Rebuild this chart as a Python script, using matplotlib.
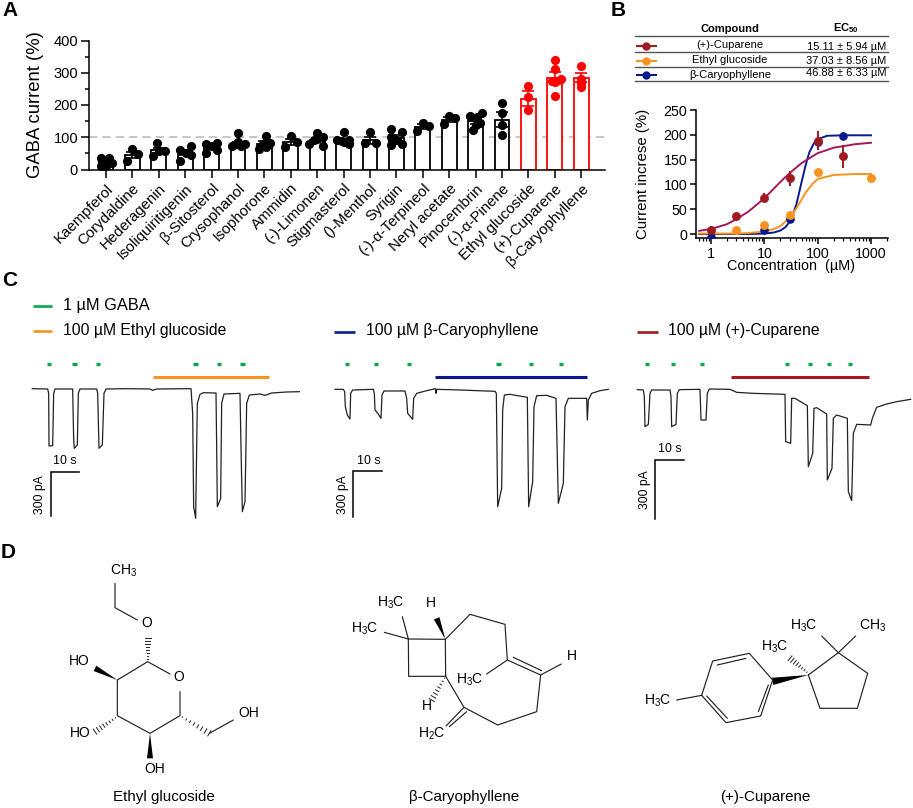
import numpy as np
import matplotlib
matplotlib.use("Agg")
import matplotlib.pyplot as plt
from matplotlib.ticker import MultipleLocator, NullFormatter, FixedLocator, LogLocator

plt.rcParams['font.family'] = ['Liberation Sans', 'DejaVu Sans']
plt.rcParams['mathtext.fontset'] = 'custom'
plt.rcParams['mathtext.rm'] = 'Liberation Sans'
plt.rcParams['mathtext.default'] = 'regular'

W, H = 913, 808

# ---------- Panel A data ----------
compounds = ["Kaempferol", "Corydaldine", "Hederagenin", "Isoliquiritigenin", "β-Sitosterol",
             "Crysophanol", "Isophorone", "Ammidin", "(-)-Limonen", "Stigmasterol", "()-Menthol",
             "Syrigin", "(-)-α-Terpineol", "Neryl acetate", "Pinocembrin", "(-)-α-Pinene",
             "Ethyl glucoside", "(+)-Cuparene", "β-Caryophyllene"]
bar_means = [22, 45, 60, 52, 70, 80, 80, 85, 92, 88, 90, 98, 133, 155, 150, 155, 220, 283, 285]
bar_sems = [3, 10, 8, 8, 6, 6, 7, 10, 5, 5, 11, 9, 8, 7, 8, 22, 23, 18, 14]
dot_values = [
    [35, 37, 25, 20, 12, 10, 25, 8], [27, 63, 47], [41, 81, 57, 57], [26, 60, 52, 72, 44],
    [50, 79, 72, 83, 62], [112, 72, 80, 72, 78, 85], [65, 103, 80, 70, 83], [70, 104, 84],
    [80, 112, 100, 73, 90, 95], [116, 91, 86, 91, 79, 88], [116, 81, 83],
    [127, 117, 101, 75, 90, 79], [119, 145, 134], [142, 165, 159],
    [166, 176, 163, 143, 122, 137], [205, 176, 137, 108], [260, 225, 183],
    [340, 313, 228, 270, 280, 275], [320, 280, 267, 256]]
dot_offsets = [
    [-16, 8, -8, 18, -16, 0, 8, -5], [-17, 0, 17], [-16, -4, 2, 19], [-16, -16, 1, 17, 17],
    [-16, -16, 1, 17, 17], [0, -17, -7, 8, 21, 0], [-15, 5, -3, 5, 18], [-16, 0, 18],
    [-26, 0, 18, 18, -10, 0], [0, -19, 0, 16, 16, -6], [0, -16, 18],
    [-16, 18, -16, -16, 1, 18], [-16, 0, 18], [-15, 0, 18],
    [-16, 19, 4, 14, -9, 2], [0, 0, 0, 0], [0, 0, 0],
    [0, 0, 0, 0, 17, -9], [0, 0, 0, 0]]

# ---------- Panel B data ----------
cup_conc = [1, 3, 10, 30, 100, 300]
cup_mean = [9, 37, 73, 112, 188, 157]
cup_err = [8, 0, 9, 16, 19, 23]
eth_conc = [3, 10, 30, 100, 1000]
eth_mean = [9, 19, 39, 125, 112]
car_conc = [1, 10, 30, 100, 300]
car_mean = [-5, 9, 30, 185, 198]
car_err = [0, 0, 0, 0, 7]
cup_fit_x = [0.6, 1, 2, 3, 5, 10, 20, 30, 50, 100, 200, 500, 1000]
cup_fit_y = [6.5, 10, 20, 30, 45, 72, 105, 123, 143, 163, 174, 181, 184]
car_fit_x = [0.6, 5, 10, 15, 20, 25, 30, 35, 40, 50, 60, 70, 85, 100, 150, 300, 1000]
car_fit_y = [0, 0, 1, 3, 7, 14, 25, 42, 60, 105, 140, 165, 183, 191, 198, 199, 199]
eth_fit_x = [0.6, 1, 3, 5, 10, 15, 20, 30, 40, 60, 80, 100, 200, 500, 1000]
eth_fit_y = [1, 1, 1, 2, 5, 10, 16, 33, 52, 84, 101, 111, 119, 121, 121]
b_rows = ["(+)-Cuparene", "Ethyl glucoside", "β-Caryophyllene"]
b_ec50 = ["15.11 ± 5.94 µM", "37.03 ± 8.56 µM", "46.88 ± 6.33 µM"]

# ---------- Panel C traces (time, current in crop units) ----------
t1_x = [97, 143, 146, 147, 158, 161, 165, 218, 221, 223, 232, 235, 240, 290, 293, 297, 307, 312, 318, 380, 450, 458,
        470, 573, 578, 581, 587, 590, 592, 600, 610, 648, 650, 652, 662, 665, 672, 720, 723, 727, 735, 740, 748,
        780, 795, 815, 860, 900]
t1_y = [326, 327, 340, 498, 497, 340, 327, 327, 480, 505, 495, 340, 327, 327, 340, 505, 495, 340, 327, 326, 327, 331,
        327, 326, 400, 680, 715, 500, 370, 343, 338, 339, 500, 680, 655, 370, 342, 340, 500, 695, 665, 370, 345,
        342, 346, 339, 336, 335]
t2_x = [75, 100, 104, 106, 112, 120, 122, 128, 190, 193, 195, 205, 213, 216, 222, 285, 290, 293, 308, 311, 320, 350,
        376, 378, 380, 450, 555, 559, 563, 575, 578, 583, 600, 652, 656, 668, 672, 680, 710, 738, 745, 760, 765,
        775, 830, 832, 835, 845, 870, 895]
t2_y = [238, 238, 245, 290, 315, 327, 250, 240, 238, 250, 300, 312, 325, 255, 243, 243, 265, 310, 328, 265, 250, 242,
        236, 250, 238, 240, 244, 250, 590, 535, 300, 255, 253, 262, 590, 515, 290, 257, 256, 265, 580, 520, 290,
        265, 265, 330, 270, 250, 242, 238]
t3_x = [52, 70, 73, 75, 85, 90, 95, 150, 153, 155, 168, 172, 178, 240, 243, 258, 262, 268, 330, 350, 400, 495, 497,
        512, 515, 525, 562, 565, 578, 582, 590, 620, 622, 636, 640, 650, 682, 685, 695, 700, 710, 752, 757, 770,
        800, 830, 872]
t3_y = [239, 240, 260, 350, 343, 250, 240, 240, 260, 350, 343, 250, 239, 238, 330, 330, 250, 237, 238, 247, 250, 253,
        395, 400, 265, 265, 287, 470, 430, 295, 293, 312, 510, 475, 325, 315, 325, 545, 572, 370, 343, 345, 325,
        292, 282, 275, 268]
t1_gaba = [141, 217, 287, 580, 650, 721]
t2_gaba = [105, 192, 290, 559, 657, 747]
t3_gaba = [75, 153, 240, 494, 563, 620, 684]

RED = '#ff0000'
C_CUP = '#a01b1f'
C_CUPFIT = '#a3195b'
C_ETH = '#f7931e'
C_CAR = '#0a1a8c'
C_GREEN = '#0aa64b'


def px_axes(l, t, r, b, **kw):
    return fig.add_axes([l / W, 1 - b / H, (r - l) / W, (b - t) / H], **kw)


def crop_axes(x, y, w, h):
    a = px_axes(x, y, x + w, y + h)
    a.set_xlim(0, w * 3)
    a.set_ylim(h * 3, 0)
    a.set_axis_off()
    a.patch.set_alpha(0)
    return a


fig = plt.figure(figsize=(W / 100, H / 100), dpi=100)
fig.patch.set_facecolor('white')

# ---------- Panel A ----------
axA = px_axes(88.5, 40.5, 605, 169.5)
xs = np.arange(len(compounds))
axA.axhline(100, color='#bdbdbd', lw=1.2, ls=(0, (5, 3)), zorder=1)
colors = ['black'] * 16 + [RED] * 3
axA.bar(xs, bar_means, width=0.56, facecolor='white', edgecolor=colors, linewidth=1.3, zorder=2)
for i in xs:
    axA.errorbar([i], [bar_means[i]], yerr=[bar_sems[i]], fmt='none', ecolor=colors[i],
                 elinewidth=1.2, capsize=4, capthick=1.2, zorder=3)
    axA.plot(i + np.array(dot_offsets[i]) / 79.2, dot_values[i], 'o', color=colors[i], ms=6.6, mew=0, zorder=4)
axA.set_xlim(-0.663, 18.9)
axA.set_ylim(0, 400)
axA.yaxis.set_major_locator(MultipleLocator(100))
axA.yaxis.set_minor_locator(MultipleLocator(50))
axA.set_xticks(xs)
axA.set_xticklabels(compounds, rotation=45, ha='right', rotation_mode='anchor', fontsize=10.8)
axA.tick_params(axis='y', which='major', length=5.5, width=1.1, labelsize=10.5, pad=2)
axA.tick_params(axis='y', which='minor', length=3, width=1.1)
axA.tick_params(axis='x', length=5.5, width=1.1, pad=3)
for s in ['top', 'right']:
    axA.spines[s].set_visible(False)
for s in ['left', 'bottom']:
    axA.spines[s].set_linewidth(1.1)
axA.set_zorder(1)
fig.text(36 / W, 1 - 105 / H, "GABA current (%)", rotation=90, ha='center', va='center', fontsize=13.3)

# ---------- Panel B table ----------
tb = crop_axes(610, 0, 303, 90)
for y in [108, 157, 202, 243]:
    tb.plot([75, 835], [y, y], color='#555555', lw=1.0)
for y, col in zip([138, 182, 226], [C_CUP, C_ETH, C_CAR]):
    tb.plot([80, 138], [y, y], color=col, lw=1.5)
    tb.plot([109], [y], 'o', color=col, ms=6, mew=0)
tb.text(360, 88, "Compound", ha='center', va='center', fontsize=8, fontweight='bold')
tb.text(708, 85, "EC$_{50}$", ha='center', va='center', fontsize=8, fontweight='bold')
for y, name in zip([136, 180, 226], b_rows):
    tb.text(360, y, name, ha='center', va='center', fontsize=8)
for y, val in zip([140, 182, 220], b_ec50):
    tb.text(830, y, val, ha='right', va='center', fontsize=8)

# ---------- Panel B curves ----------
axB = px_axes(695.7, 110, 888.3, 238.3)
axB.set_xscale('log')
axB.set_xlim(0.517, 2112)
axB.set_ylim(-8.6, 250)
axB.plot(car_fit_x, car_fit_y, color=C_CAR, lw=1.4, zorder=2)
axB.plot(eth_fit_x, eth_fit_y, color=C_ETH, lw=1.4, zorder=2)
axB.plot(cup_fit_x, cup_fit_y, color=C_CUPFIT, lw=1.4, zorder=3)
axB.errorbar(car_conc, car_mean, yerr=car_err, fmt='o', color=C_CAR, ms=6.2, mew=0, elinewidth=1.4,
             capsize=3.5, capthick=1.4, zorder=4)
axB.plot(eth_conc, eth_mean, 'o', color=C_ETH, ms=6.4, mew=0, zorder=5)
axB.errorbar(cup_conc, cup_mean, yerr=cup_err, fmt='o', color=C_CUP, ms=6.4, mew=0, elinewidth=1.4,
             capsize=3.5, capthick=1.4, zorder=6)
axB.xaxis.set_major_locator(FixedLocator([1, 10, 100, 1000]))
axB.set_xticklabels(["1", "10", "100", "1000"])
axB.xaxis.set_minor_locator(LogLocator(base=10, subs=np.arange(2, 10), numticks=12))
axB.xaxis.set_minor_formatter(NullFormatter())
axB.yaxis.set_major_locator(MultipleLocator(50))
axB.tick_params(axis='both', which='major', length=4, width=1.1, labelsize=10.3, pad=2)
axB.tick_params(axis='x', which='minor', length=2.5, width=0.9)
axB.spines['left'].set_bounds(-8.6, 250)
for s in ['top', 'right']:
    axB.spines[s].set_visible(False)
for s in ['left', 'bottom']:
    axB.spines[s].set_linewidth(1.1)
fig.text(643 / W, 1 - 174 / H, "Current increse (%)", rotation=90, ha='center', va='center', fontsize=10.8)
fig.text(791 / W, 1 - 266 / H, "Concentration  (µM)", ha='center', va='center', fontsize=10.4)


# ---------- Panel C ----------
def panel_c(crop, tx, ty, gaba, gaba_y, bar, bar_y, bar_col, scale, s_txt, p_txt):
    a = crop_axes(*crop)
    a.plot(tx, ty, color='#222222', lw=0.9)
    for g in gaba:
        a.plot([g, g + 13], [gaba_y, gaba_y], color=C_GREEN, lw=2.4, solid_capstyle='butt')
    a.plot(bar, [bar_y, bar_y], color=bar_col, lw=2.2, solid_capstyle='butt')
    sx0, sx1, sy0, sy1 = scale
    a.plot([sx1, sx0, sx0], [sy0, sy0, sy1], color='black', lw=1.1, solid_joinstyle='miter')
    a.text(*s_txt, "10 s", ha='center', va='center', fontsize=8.9)
    a.text(*p_txt, "300 pA", ha='center', va='center', rotation=90, fontsize=8.7)
    return a


c1 = panel_c((0, 280, 300, 250), t1_x, t1_y, t1_gaba, 251, [459, 807], 290, C_ETH,
             (152, 238, 576, 708), (193, 543), (120, 645))
c1.plot([98, 155], [78, 78], color=C_GREEN, lw=1.9, solid_capstyle='butt')
c1.plot([98, 155], [152, 152], color=C_ETH, lw=1.9, solid_capstyle='butt')
c1.text(190, 75, "1 µM GABA", ha='left', va='center', fontsize=11.8)
c1.text(190, 150, "100 µM Ethyl glucoside", ha='left', va='center', fontsize=11.3)

c2 = panel_c((310, 310, 300, 220), t2_x, t2_y, t2_gaba, 161, [375, 830], 200, C_CAR,
             (130, 217, 482, 622), (175, 452), (100, 555))
c2.plot([72, 135], [65, 65], color=C_CAR, lw=1.9, solid_capstyle='butt')
c2.text(167, 60, "100 µM β-Caryophyllene", ha='left', va='center', fontsize=11.3)

c3 = panel_c((620, 310, 293, 220), t3_x, t3_y, t3_gaba, 161, [333, 748], 200, C_CUP,
             (105, 192, 449, 627), (148, 418), (75, 540))
c3.plot([50, 113], [65, 65], color=C_CUP, lw=1.9, solid_capstyle='butt')
c3.text(145, 60, "100 µM (+)-Cuparene", ha='left', va='center', fontsize=11.3)


# ---------- Panel D ----------
def bonds(a, segs):
    for s in segs:
        xx, yy = zip(*s)
        a.plot(xx, yy, color='#222222', lw=0.85, solid_capstyle='round', solid_joinstyle='round')


def wedge(a, p0, p1, w=9):
    p0, p1 = np.array(p0, float), np.array(p1, float)
    d = p1 - p0
    n = np.array([-d[1], d[0]]) / np.hypot(*d)
    a.fill(*zip(p0, p1 + n * w, p1 - n * w), color='black', lw=0)


def hashed(a, p0, p1, w=9, count=8):
    p0, p1 = np.array(p0, float), np.array(p1, float)
    d = p1 - p0
    n = np.array([-d[1], d[0]]) / np.hypot(*d)
    for f in np.linspace(0.08, 1, count):
        c = p0 + d * f
        a.plot(*zip(c + n * w * f, c - n * w * f), color='#222222', lw=0.7)


d1 = crop_axes(0, 540, 300, 268)
bonds(d1, [[(345, 130), (345, 203), (412, 240)],
           [(510, 402), (443, 365), (352, 420), (352, 527), (450, 580), (540, 527), (540, 455)],
           [(628, 580), (700, 540)]])
hashed(d1, (443, 362), (443, 295))
wedge(d1, (352, 420), (285, 385))
hashed(d1, (352, 530), (285, 575))
wedge(d1, (450, 580), (450, 655))
hashed(d1, (540, 527), (628, 580))
for x, y, s in [(372, 92, "CH$_3$"), (440, 250, "O"), (537, 410, "O"), (238, 362, "HO"), (242, 580, "HO"),
                (465, 688, "OH"), (747, 518, "OH")]:
    d1.text(x, y, s, ha='center', va='center', fontsize=10)
d1.text(492, 772, "Ethyl glucoside", ha='center', va='center', fontsize=10.9)

d2 = crop_axes(320, 570, 290, 238)
bonds(d2, [[(265, 207), (376, 208), (377, 319), (266, 319), (265, 207)],
           [(193, 187), (265, 207), (247, 140)],
           [(376, 208), (450, 133), (555, 163), (562, 270), (662, 315), (724, 282)],
           [(580, 262), (665, 302)],
           [(562, 270), (500, 312)],
           [(662, 315), (650, 425), (533, 465), (432, 412), (377, 319)],
           [(432, 412), (378, 468)], [(440, 425), (388, 470)]])
wedge(d2, (376, 208), (350, 145))
hashed(d2, (377, 319), (335, 390))
for x, y, s in [(212, 97, "H$_3$C"), (133, 177, "H$_3$C"), (334, 100, "H"), (757, 257, "H"), (449, 330, "H$_3$C"),
                (320, 407, "H"), (335, 490, "H$_2$C")]:
    d2.text(x, y, s, ha='center', va='center', fontsize=10)
d2.text(432, 682, "β-Caryophyllene", ha='center', va='center', fontsize=10.9)

d3 = crop_axes(640, 590, 273, 218)
bonds(d3, [[(185, 316), (218, 213), (328, 190), (398, 270), (362, 378), (258, 398), (185, 316)],
           [(232, 225), (318, 205)], [(385, 285), (355, 365)], [(200, 318), (262, 385)],
           [(185, 316), (110, 330)],
           [(505, 255), (595, 188), (683, 250), (652, 355), (540, 355), (505, 255)],
           [(595, 188), (545, 138)], [(595, 188), (647, 138)]])
wedge(d3, (505, 255), (398, 274), w=11)
hashed(d3, (505, 250), (450, 205))
for x, y, s in [(52, 333, "H$_3$C"), (492, 107, "H$_3$C"), (697, 107, "CH$_3$"), (405, 170, "H$_3$C")]:
    d3.text(x, y, s, ha='center', va='center', fontsize=10)
d3.text(375, 622, "(+)-Cuparene", ha='center', va='center', fontsize=10.9)

# ---------- Panel letters ----------
for x, y, s in [(2, 11, "A"), (611, 11, "B"), (2, 280, "C"), (1, 553, "D")]:
    fig.text(x / W, 1 - y / H, s, ha='left', va='center', fontsize=15, fontweight='bold')

fig.savefig("out.png", dpi=100)
